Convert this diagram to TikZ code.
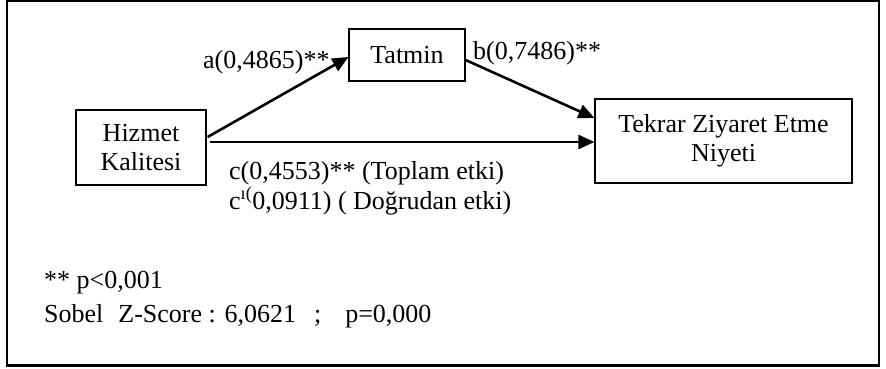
\documentclass[tikz,border=0pt]{standalone}
\usepackage{fontspec}
\setmainfont{Liberation Serif}
\usetikzlibrary{arrows.meta}
\begin{document}
\begin{tikzpicture}[x=1pt,y=-1pt,
  box/.style={draw, line width=1.2pt, inner sep=0pt, align=center, font=\fontsize{26}{29.5}\selectfont},
  lbl/.style={inner sep=0pt, anchor=base west, font=\fontsize{26}{29.5}\selectfont},
  arr/.style={line width=2.6pt, -{Triangle[length=16pt,width=14pt]}}]
\useasboundingbox (0,0) rectangle (886,368);
\draw[line width=1.5pt] (7,1) rectangle (879,365.5);
\draw[line width=2.6pt] (6.25,365.5) -- (879.75,365.5);
\node[box, minimum width=130pt, minimum height=75pt] (hk) at (141,147.5) {Hizmet\\Kalitesi};
\node[box, minimum width=116pt, minimum height=52pt] (tat) at (407,55) {Tatmin};
\node[box, minimum width=257pt, minimum height=84pt] (tz) at (723.5,141) {Tekrar Ziyaret Etme\\Niyeti};
\draw[arr] ([yshift=10.5pt,xshift=1pt]hk.east) -- ([yshift=-2pt]tat.west);
\draw[arr] ([yshift=-5pt]tat.east) -- ([yshift=23pt]tz.west);
\draw[arr] ([yshift=5.5pt,xshift=3pt]hk.east) -- ([yshift=-1pt]tz.west);
\node[lbl] (la) at (203,68) {a(0,4865)**};
\node[lbl] (lb) at (473,59) {b(0,7486)**};
\node[lbl] (lc) at (229,179) {c(0,4553)** (Toplam etki)};
\node[lbl] (lc2) at (229,209) {c\textsuperscript{ı(}0,0911) ( Doğrudan etki)};
\node[lbl] (lp) at (44,288) {** p<0,001};
\node[lbl] (ls) at (44,322) {Sobel\hspace{15pt}Z-Score : 6,0621\hspace{18pt};\hspace{24pt}p=0,000};
\end{tikzpicture}
\end{document}
